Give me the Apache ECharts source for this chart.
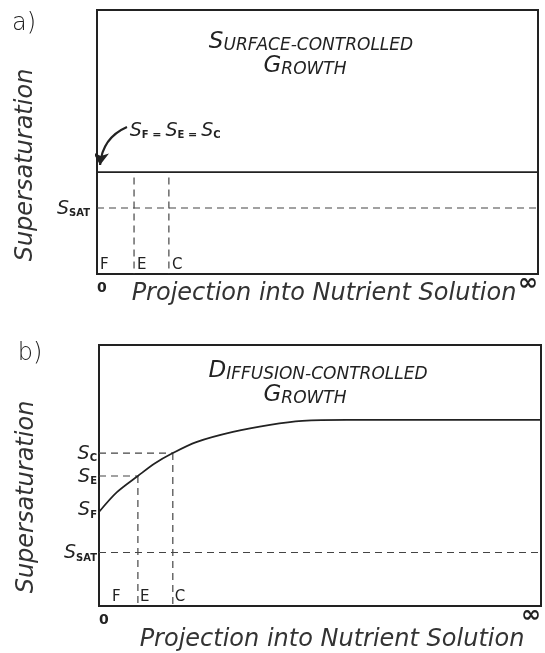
<!DOCTYPE html>
<html>
<head>
<meta charset="utf-8">
<script src="https://cdn.jsdelivr.net/npm/echarts@6/dist/echarts.min.js"></script>
<style>
html,body{margin:0;padding:0;background:#fff;}
#chart{width:545px;height:653px;}
</style>
</head>
<body>
<div id="chart"></div>
<script>
// ---------- data ----------
const xTickValues = [0, 100];
const xTickLabels = ['0', '\u221E'];
const pointNames = ['F', 'E', 'C'];

// panel a : surface-controlled growth
const aGrowthLevel = 38.6;
const aSatLevel = 25;
const aPointX = [0, 8.4, 16.3];

// panel b : diffusion-controlled growth
const bCurveX = [0, 4, 8.8, 12.5, 16.7, 22, 30.3, 38.7, 46, 56, 70, 100];
const bCurveY = [36, 43.5, 49.8, 54.5, 58.6, 62.8, 66.7, 69.4, 70.9, 71.3, 71.3, 71.3];
const bPointX = [0, 8.8, 16.7];
const bPointY = [36, 49.8, 58.6];
const bSatLevel = 20.5;

// ---------- styles ----------
const INK = '#222';
const DASH = {color: '#444', width: 1.2, type: [7, 5]};
const SOLID = {color: INK, width: 1.7};
const FONT = 'DejaVu Sans';

const symRich = {
  s: {fontFamily: FONT, fontStyle: 'italic', fontSize: 19, color: INK, verticalAlign: 'bottom', lineHeight: 21},
  sub: {fontFamily: FONT, fontWeight: 'bold', fontSize: 10, color: INK, verticalAlign: 'bottom', lineHeight: 9},
  eq: {fontFamily: FONT, fontWeight: 'bold', fontSize: 11, color: INK, verticalAlign: 'bottom', lineHeight: 16}
};
const sym = (sub) => '{s|S}{sub|' + sub + '}';

function seg(idx, pts, style, z) {
  return {type: 'line', xAxisIndex: idx, yAxisIndex: idx, data: pts, symbol: 'none',
          lineStyle: style, silent: true, z: z || 2, animation: false};
}
function labels(idx, items, pos, dist, rich) {
  return {type: 'scatter', xAxisIndex: idx, yAxisIndex: idx, symbolSize: 0, silent: true, z: 5,
    itemStyle: {opacity: 1},
    data: items.map(it => ({value: it.v, label: {show: true, position: pos, distance: dist, opacity: 1,
      formatter: it.t, rich: rich, color: INK, fontFamily: FONT, fontSize: 15}}))};
}

const series = [];
// panel a
series.push(seg(0, [[0, aGrowthLevel], [100, aGrowthLevel]], SOLID, 3));
series.push(seg(0, [[0, aSatLevel], [100, aSatLevel]], DASH));
for (let i = 1; i < aPointX.length; i++) {
  series.push(seg(0, [[aPointX[i], aGrowthLevel - 2], [aPointX[i], 0]], DASH));
}
series.push(labels(0, [{v: [0, aSatLevel], t: '{s|S}{sub|SAT}'}], 'left', 7, symRich));
series.push(labels(0, aPointX.map((x, i) => ({v: [x, 3.3], t: pointNames[i]})), 'right', 3, symRich));
series.push(labels(0, [{v: [7.4, 54.5], t: sym('F') + '{eq| = }' + sym('E') + '{eq| = }' + sym('C')}], 'right', 0, symRich));
series.push({type: 'lines', coordinateSystem: 'cartesian2d', xAxisIndex: 0, yAxisIndex: 0, silent: true, z: 4,
  symbol: ['none', 'arrow'], symbolSize: [7, 12],
  lineStyle: {color: INK, width: 2.2, curveness: -0.3, opacity: 1},
  data: [{coords: [[6.8, 55.7], [0.7, 41.3]]}]});

// panel b
series.push(seg(1, bCurveX.map((x, i) => [x, bCurveY[i]]), SOLID, 3));
series[series.length - 1].smooth = 0.3;
series.push(seg(1, [[0, bSatLevel], [100, bSatLevel]], DASH));
for (let i = 1; i < bPointX.length; i++) {
  series.push(seg(1, [[0, bPointY[i]], [bPointX[i], bPointY[i]]], DASH));
  series.push(seg(1, [[bPointX[i], bPointY[i]], [bPointX[i], 0]], DASH));
}
series.push(labels(1, [
  {v: [0, bPointY[2]], t: sym('C')},
  {v: [0, bPointY[1]], t: sym('E')},
  {v: [0, bPointY[0] + 1], t: sym('F')},
  {v: [0, bSatLevel], t: '{s|S}{sub|SAT}'}
], 'left', 2, symRich));
series.push(labels(1, [{v: [2.5, 3.5], t: 'F'}, {v: [bPointX[1], 3.5], t: 'E'}, {v: [bPointX[2], 3.5], t: 'C'}], 'right', 2, symRich));

function xAxis(i) {
  return {gridIndex: i, type: 'value', min: xTickValues[0], max: xTickValues[1], interval: 100,
    axisLine: {show: false}, axisTick: {show: false}, splitLine: {show: false},
    axisLabel: {show: true, margin: 1, alignMinLabel: 'left', alignMaxLabel: 'right',
      formatter: v => v === xTickValues[0] ? '{z|' + xTickLabels[0] + '}' : '{inf|' + xTickLabels[1] + '}',
      rich: {
        z: {fontFamily: FONT, fontWeight: 'bold', fontSize: 14, color: INK, padding: [6, 0, 0, 0]},
        inf: {fontFamily: FONT, fontWeight: 'bold', fontSize: 24, color: INK, lineHeight: 18}
      }}};
}
function yAxis(i) {
  return {gridIndex: i, type: 'value', min: 0, max: 100,
    axisLine: {show: false}, axisTick: {show: false}, splitLine: {show: false}, axisLabel: {show: false}};
}

const titleRich = {
  big: {fontFamily: FONT, fontStyle: 'italic', fontSize: 23, color: INK, verticalAlign: 'bottom', lineHeight: 26},
  sm: {fontFamily: FONT, fontStyle: 'italic', fontSize: 17, color: INK, verticalAlign: 'bottom', lineHeight: 21}
};
function txt(x, y, text, extra) {
  return Object.assign({type: 'text', x: x, y: y, silent: true, z: 10,
    style: Object.assign({text: text, fill: INK, fontFamily: FONT, align: 'center', verticalAlign: 'middle'}, extra || {})});
}
const axisNameStyle = {fontSize: 24, fontStyle: 'italic', fontWeight: 200, fill: '#333'};

const graphic = [
  txt(24, 24, 'a)', {fontSize: 24, fontWeight: 200}),
  txt(30, 354, 'b)', {fontSize: 24, fontWeight: 200}),
  txt(311, 41, '{big|S}{sm|URFACE-CONTROLLED}', {rich: titleRich}),
  txt(305, 65, '{big|G}{sm|ROWTH}', {rich: titleRich}),
  txt(318, 370, '{big|D}{sm|IFFUSION-CONTROLLED}', {rich: titleRich}),
  txt(305, 394, '{big|G}{sm|ROWTH}', {rich: titleRich}),
  Object.assign(txt(26, 165, 'Supersaturation', axisNameStyle), {rotation: Math.PI / 2}),
  Object.assign(txt(27, 497, 'Supersaturation', axisNameStyle), {rotation: Math.PI / 2}),
  txt(324, 294, 'Projection into Nutrient Solution', axisNameStyle),
  txt(332, 640, 'Projection into Nutrient Solution', axisNameStyle)
];

const chart = echarts.init(document.getElementById('chart'), null, {renderer: 'canvas'});
chart.setOption({
  backgroundColor: '#fff',
  animation: false,
  grid: [
    {left: 97, top: 10, width: 441, height: 264, show: true, borderColor: INK, borderWidth: 2},
    {left: 99, top: 345, width: 442, height: 261, show: true, borderColor: INK, borderWidth: 2}
  ],
  xAxis: [xAxis(0), xAxis(1)],
  yAxis: [yAxis(0), yAxis(1)],
  series: series,
  graphic: graphic
});
</script>
</body>
</html>
